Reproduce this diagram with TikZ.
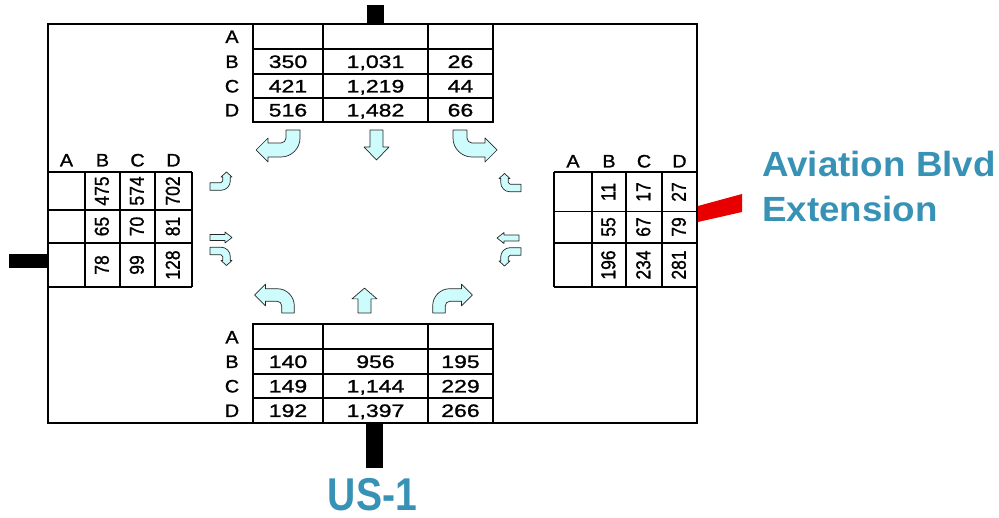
\documentclass[tikz,border=0pt]{standalone}
\usepackage{fontspec}
\setmainfont{Liberation Sans}
\newfontfamily\tabfont[FakeStretch=1.28,FakeBold=1.2]{Liberation Sans}
\newfontfamily\letfont[FakeStretch=1.1,FakeBold=1.2]{Liberation Sans}
\newfontfamily\rotfont[FakeBold=1.2]{Liberation Sans}
\newfontfamily\roadfont[FakeStretch=1.05]{Liberation Sans}
\newfontfamily\usfont[FakeStretch=0.85]{Liberation Sans}
\definecolor{roadblue}{RGB}{55,146,181}
\definecolor{arrowfill}{RGB}{206,252,252}
\definecolor{roadred}{RGB}{232,0,0}

% turning lane arrow: #1 sign (+1 left turn, -1 right turn), #2 half width,
% #3 straight length, #4 bend radius, #5 head start, #6 head length, #7 head half width
\newcommand\turnarrow[7]{%
  \draw[lane] ({#1*(-#2)},0) -- ({#1*(-#2)},#3)
    .. controls ({#1*(-#2)},{#3+0.5523*(#4+#2)}) and ({#1*(#4-0.5523*(#4+#2))},{#3+#4+#2}) .. ({#1*#4},{#3+#4+#2})
    -- ({#1*#5},{#3+#4+#2}) -- ({#1*#5},{#3+#4+#7}) -- ({#1*(#5+#6)},{#3+#4})
    -- ({#1*#5},{#3+#4-#7}) -- ({#1*#5},{#3+#4-#2}) -- ({#1*#4},{#3+#4-#2})
    .. controls ({#1*(#4-0.5523*(#4-#2))},{#3+#4-#2}) and ({#1*#2},{#3+0.5523*(#4-#2)}) .. ({#1*#2},#3)
    -- ({#1*#2},0) -- cycle;}
% through lane arrow: #1 half width, #2 shaft length, #3 head length, #4 head half width
\newcommand\througharrow[4]{%
  \draw[lane] (-#1,0) -- (-#1,#2) -- (-#4,#2) -- (0,{#2+#3}) -- (#4,#2) -- (#1,#2) -- (#1,0) -- cycle;}
% place: #1 x, #2 y (screen px), #3 side vector, #4 forward vector, #5 drawing
\newcommand\lanearrowat[5]{%
  \begin{scope}[x={#3},y={#4},shift={(#1pt,-#2pt)}]#5\end{scope}}

\begin{document}
\begin{tikzpicture}[x=1pt,y=-1pt,
  mainbox/.style={draw=black, line width=2pt},
  tline/.style={draw=black, line width=1.7pt},
  cell/.style={font=\tabfont\fontsize{18}{20}\selectfont, inner sep=0pt, text height=12.9pt, text depth=0pt},
  hdr/.style={font=\letfont\fontsize{18}{20}\selectfont, inner sep=0pt, text height=12.9pt, text depth=0pt},
  rcell/.style={font=\rotfont\fontsize{17.5}{20}\selectfont, inner sep=0pt, rotate=90, text height=12.5pt, text depth=0pt},
  lane/.style={fill=arrowfill, draw=black!85, line width=0.7pt, line join=round},
  roadname/.style={font=\roadfont\bfseries\fontsize{35}{40}\selectfont, text=roadblue, inner sep=0pt},
  usname/.style={font=\usfont\bfseries\fontsize{46}{48}\selectfont, text=roadblue, inner sep=0pt}]
\useasboundingbox (0,0) rectangle (999,518);

% road stubs
\fill[black] (367,5) rectangle (384,24);
\fill[black] (366,423) rectangle (383,468);
\fill[black] (9,254) rectangle (48,268);
\fill[roadred] (698,206) -- (742,194) -- (742,212) -- (698,222) -- cycle;

% main box
\draw[mainbox] (48,24) rectangle (697,423);

% ---------- top table ----------
\draw[tline] (253,24) -- (253,122) -- (493,122) -- (493,24);
\foreach \yy in {49,74,98} \draw[tline] (253,\yy) -- (493,\yy);
\foreach \xx in {323,428} \draw[tline] (\xx,24) -- (\xx,122);
\node[hdr] (tA) at (232,36.5) {A};
\node[hdr] (tB) at (232,61.5) {B};
\node[hdr] (tC) at (232,86) {C};
\node[hdr] (tD) at (232,110) {D};
\node[cell] (tB1) at (288,61.5) {350};
\node[cell] (tB2) at (375.5,61.5) {1,031};
\node[cell] (tB3) at (460.5,61.5) {26};
\node[cell] (tC1) at (288,86) {421};
\node[cell] (tC2) at (375.5,86) {1,219};
\node[cell] (tC3) at (460.5,86) {44};
\node[cell] (tD1) at (288,110) {516};
\node[cell] (tD2) at (375.5,110) {1,482};
\node[cell] (tD3) at (460.5,110) {66};

% ---------- bottom table ----------
\draw[tline] (253,423) -- (253,324) -- (493,324) -- (493,423);
\foreach \yy in {349,374,398} \draw[tline] (253,\yy) -- (493,\yy);
\foreach \xx in {323,428} \draw[tline] (\xx,324) -- (\xx,423);
\node[hdr] (bA) at (232,337) {A};
\node[hdr] (bB) at (232,361.5) {B};
\node[hdr] (bC) at (232,386) {C};
\node[hdr] (bD) at (232,410.5) {D};
\node[cell] (bB1) at (288,361.5) {140};
\node[cell] (bB2) at (375.5,361.5) {956};
\node[cell] (bB3) at (460.5,361.5) {195};
\node[cell] (bC1) at (288,386) {149};
\node[cell] (bC2) at (375.5,386) {1,144};
\node[cell] (bC3) at (460.5,386) {229};
\node[cell] (bD1) at (288,410.5) {192};
\node[cell] (bD2) at (375.5,410.5) {1,397};
\node[cell] (bD3) at (460.5,410.5) {266};

% ---------- left table ----------
\foreach \yy in {172,210,243,287} \draw[tline] (48,\yy) -- (192,\yy);
\foreach \xx in {85,120,155,192} \draw[tline] (\xx,172) -- (\xx,287);
\node[hdr] (lA) at (66.5,160) {A};
\node[hdr] (lB) at (102.5,160) {B};
\node[hdr] (lC) at (137.5,160) {C};
\node[hdr] (lD) at (173.5,160) {D};
\node[rcell] (l1B) at (102.5,191) {\scalebox{1}[1.15]{475}};
\node[rcell] (l1C) at (137.5,191) {\scalebox{1}[1.15]{574}};
\node[rcell] (l1D) at (173.5,191) {\scalebox{1}[1.15]{702}};
\node[rcell] (l2B) at (102.5,226.5) {\scalebox{1}[1.15]{65}};
\node[rcell] (l2C) at (137.5,226.5) {\scalebox{1}[1.15]{70}};
\node[rcell] (l2D) at (173.5,226.5) {\scalebox{1}[1.15]{81}};
\node[rcell] (l3B) at (102.5,265) {\scalebox{1}[1.15]{78}};
\node[rcell] (l3C) at (137.5,265) {\scalebox{1}[1.15]{99}};
\node[rcell] (l3D) at (173.5,265) {\scalebox{1}[1.15]{128}};

% ---------- right table ----------
\foreach \yy in {172,211.5,243,287} \draw[tline] (554,\yy) -- (697,\yy);
\foreach \xx in {554,592,626,662} \draw[tline] (\xx,172) -- (\xx,287);
\node[hdr] (rA) at (573,161) {A};
\node[hdr] (rB) at (609,161) {B};
\node[hdr] (rC) at (644,161) {C};
\node[hdr] (rD) at (679.5,161) {D};
\node[rcell] (r1B) at (609,192) {\scalebox{1}[1.15]{11}};
\node[rcell] (r1C) at (644,192) {\scalebox{1}[1.15]{17}};
\node[rcell] (r1D) at (679.5,192) {\scalebox{1}[1.15]{27}};
\node[rcell] (r2B) at (609,227) {\scalebox{1}[1.15]{55}};
\node[rcell] (r2C) at (644,227) {\scalebox{1}[1.15]{67}};
\node[rcell] (r2D) at (679.5,227) {\scalebox{1}[1.15]{79}};
\node[rcell] (r3B) at (609,265) {\scalebox{1}[1.15]{196}};
\node[rcell] (r3C) at (644,265) {\scalebox{1}[1.15]{234}};
\node[rcell] (r3D) at (679.5,265) {\scalebox{1}[1.15]{281}};

% ---------- lane arrows ----------
% southbound (top)
\lanearrowat{460}{130}{(1pt,0pt)}{(0pt,-1pt)}{\turnarrow{1}{7}{8}{12}{25}{12}{12}}
\lanearrowat{376.5}{130}{(1pt,0pt)}{(0pt,-1pt)}{\througharrow{6.5}{17}{13}{12.5}}
\lanearrowat{293}{130}{(1pt,0pt)}{(0pt,-1pt)}{\turnarrow{-1}{7}{8}{12}{25}{12}{12}}
% northbound (bottom)
\lanearrowat{288}{313}{(-0.9pt,0pt)}{(0pt,0.9pt)}{\turnarrow{1}{7}{8}{12}{25}{12}{12}}
\lanearrowat{364.5}{313}{(-1pt,0pt)}{(0pt,0.83pt)}{\througharrow{6.5}{17}{13}{12.5}}
\lanearrowat{439}{313}{(-0.9pt,0pt)}{(0pt,0.9pt)}{\turnarrow{-1}{7}{8}{12}{25}{12}{12}}
% eastbound (left)
\lanearrowat{210}{186.5}{(0pt,1pt)}{(1pt,0pt)}{\turnarrow{1}{3.8}{11}{5.5}{9.5}{5}{5.5}}
\lanearrowat{210}{237.5}{(0pt,1pt)}{(1pt,0pt)}{\througharrow{3}{15}{7}{5.5}}
\lanearrowat{210}{251}{(0pt,1pt)}{(1pt,0pt)}{\turnarrow{-1}{3.8}{11}{5.5}{9.5}{5}{5.5}}
% westbound (right)
\lanearrowat{521}{188}{(0pt,-1pt)}{(-1pt,0pt)}{\turnarrow{-1}{3.8}{11}{5.5}{9.5}{5}{5.5}}
\lanearrowat{519}{238}{(0pt,-1pt)}{(-1pt,0pt)}{\througharrow{3}{15}{7}{5.5}}
\lanearrowat{521}{251.5}{(0pt,-1pt)}{(-1pt,0pt)}{\turnarrow{1}{3.8}{11}{5.5}{9.5}{5}{5.5}}

% ---------- road names ----------
\node[roadname, anchor=base west] (avi) at (762,177) {Aviation Blvd};
\node[roadname, anchor=base west] (ext) at (762,222) {Extension};
\node[usname, anchor=base] (us1) at (372.5,510) {US-1};
\end{tikzpicture}
\end{document}
